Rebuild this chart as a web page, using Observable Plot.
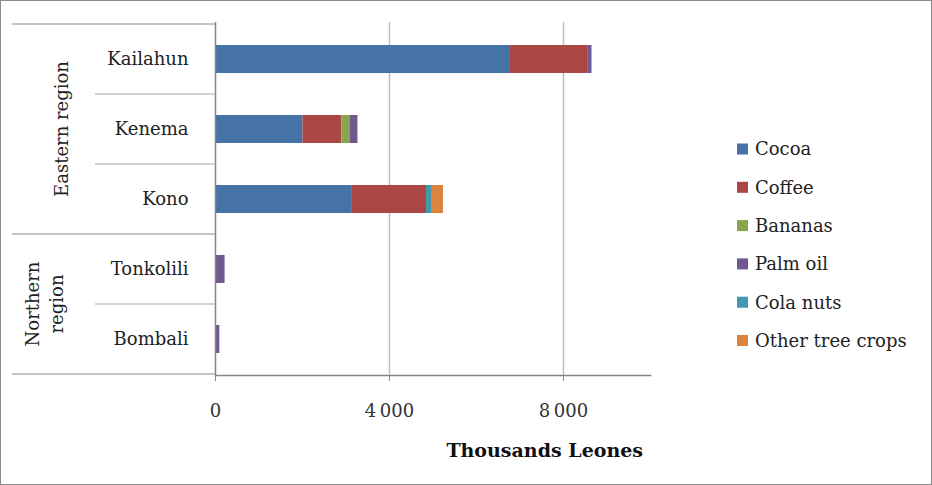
<!DOCTYPE html>
<html><head><meta charset="utf-8">
<script src="https://cdn.jsdelivr.net/npm/d3@7"></script>
<script src="https://cdn.jsdelivr.net/npm/@observablehq/plot@0.6"></script>
<style>
body{margin:0;background:#fff}
#frame{position:relative;width:932px;height:485px;overflow:hidden;background:#fff}
#frame svg{position:absolute;left:0;top:0}
#border{position:absolute;left:0;top:0;width:932px;height:485px;box-sizing:border-box;border:1px solid #8c8c8c;pointer-events:none}
</style></head><body>
<div id="frame"><div id="chart"></div><div id="border"></div></div>
<script>
const districts = ["Kailahun", "Kenema", "Kono", "Tonkolili", "Bombali"];
const regions = [
  {name: ["Eastern region"], members: ["Kailahun", "Kenema", "Kono"]},
  {name: ["Northern", "region"], members: ["Tonkolili", "Bombali"]}
];
const crops = ["Cocoa", "Coffee", "Bananas", "Palm oil", "Cola nuts", "Other tree crops"];
const cropColors = ["#4572a7", "#aa4643", "#89a54e", "#71588f", "#4198af", "#db843d"];
// values in thousands Leones, per district (same order as districts)
const cocoa          = [6780, 2010, 3130, 0, 0];
const coffee         = [1790,  895, 1720, 0, 0];
const bananas        = [   0,  185,    0, 0, 0];
const palmOil        = [  85,  185,    0, 220, 100];
const colaNuts       = [   0,    0,  115, 0, 0];
const otherTreeCrops = [   0,    0,  275, 0, 0];
const xTicks = [0, 4000, 8000];
const xLabel = "Thousands Leones";

const series = [cocoa, coffee, bananas, palmOil, colaNuts, otherTreeCrops];
const data = [];
crops.forEach((c, ci) => districts.forEach((d, di) => {
  const v = series[ci][di];
  if (v > 0) data.push({district: d, crop: c, value: v});
}));

const FONT = "DejaVu Serif";
const plot = Plot.plot({
  width: 932, height: 485,
  marginLeft: 215, marginRight: 282, marginTop: 22, marginBottom: 110,
  style: {fontFamily: FONT, fontSize: "18px", color: "#222", background: "transparent", overflow: "visible"},
  x: {domain: [0, 10000]},
  y: {domain: districts, paddingInner: 0.6, paddingOuter: 0.3},
  color: {domain: crops, range: cropColors},
  marks: [
    Plot.gridX(xTicks.filter(d => d > 0), {stroke: "#bfbfbf", strokeOpacity: 1, strokeWidth: 1.5}),
    Plot.barX(data, Plot.stackX({y: "district", x: "value", fill: "crop", order: crops})),
    Plot.ruleX([0], {stroke: "#868686", strokeWidth: 1.5}),
    Plot.frame({anchor: "bottom", stroke: "#868686", strokeWidth: 1.5}),
    Plot.axisX({ticks: xTicks, tickSize: 6, tickPadding: 23, stroke: "#868686",
      tickFormat: d => d3.format(",")(d).replace(",", "\u2009"), label: null, fill: "#333"}),
    Plot.axisY({tickSize: 0, tickPadding: 27, label: null, fill: "#222"})
  ]
});
document.getElementById("chart").appendChild(plot);

const svg = d3.select(plot);
const ys = plot.scale("y");
const xs = plot.scale("x");
const step = ys.step;
const rowTop = d => ys.apply(d) - step * 0.3;
const rowBottom = d => rowTop(d) + step;
const left0 = xs.apply(0);
const g = svg.append("g").attr("font-family", FONT).attr("font-size", 18).attr("fill", "#222");

// hierarchical category lines
regions.forEach((r, ri) => {
  const top = rowTop(r.members[0]);
  const bottom = rowBottom(r.members[r.members.length - 1]);
  g.append("line").attr("x1", 12).attr("x2", left0).attr("y1", top).attr("y2", top)
    .attr("stroke", "#8c8c8c").attr("stroke-width", 1.2);
  if (ri === regions.length - 1)
    g.append("line").attr("x1", 12).attr("x2", left0).attr("y1", bottom).attr("y2", bottom)
      .attr("stroke", "#8c8c8c").attr("stroke-width", 1.2);
  r.members.slice(1).forEach(m => {
    const yy = rowTop(m);
    g.append("line").attr("x1", 95).attr("x2", left0).attr("y1", yy).attr("y2", yy)
      .attr("stroke", "#a6a6a6").attr("stroke-width", 1.2);
  });
  const cy = (top + bottom) / 2;
  const n = r.name.length;
  const cx = n === 1 ? 62 : 45;
  r.name.forEach((line, li) => {
    g.append("text").attr("transform", `translate(${cx + (li - (n - 1) / 2) * 24},${cy}) rotate(-90)`)
      .attr("text-anchor", "middle").attr("dy", "0.35em").text(line);
  });
});

// axis title
g.append("text").attr("x", xs.apply(10000) - 7).attr("y", 450).attr("text-anchor", "end")
  .attr("dy", "0.35em").attr("font-weight", "bold").attr("font-size", 19).attr("fill", "#111").text(xLabel);

// legend
const lg = g.append("g").attr("text-anchor", "start");
crops.forEach((c, i) => {
  const cy = 149 + i * 38.3;
  lg.append("rect").attr("x", 737).attr("y", cy - 5.5).attr("width", 11).attr("height", 11).attr("fill", cropColors[i]);
  lg.append("text").attr("x", 755).attr("y", cy).attr("dy", "0.35em").attr("text-anchor", "start").text(c);
});
</script>
</body></html>
